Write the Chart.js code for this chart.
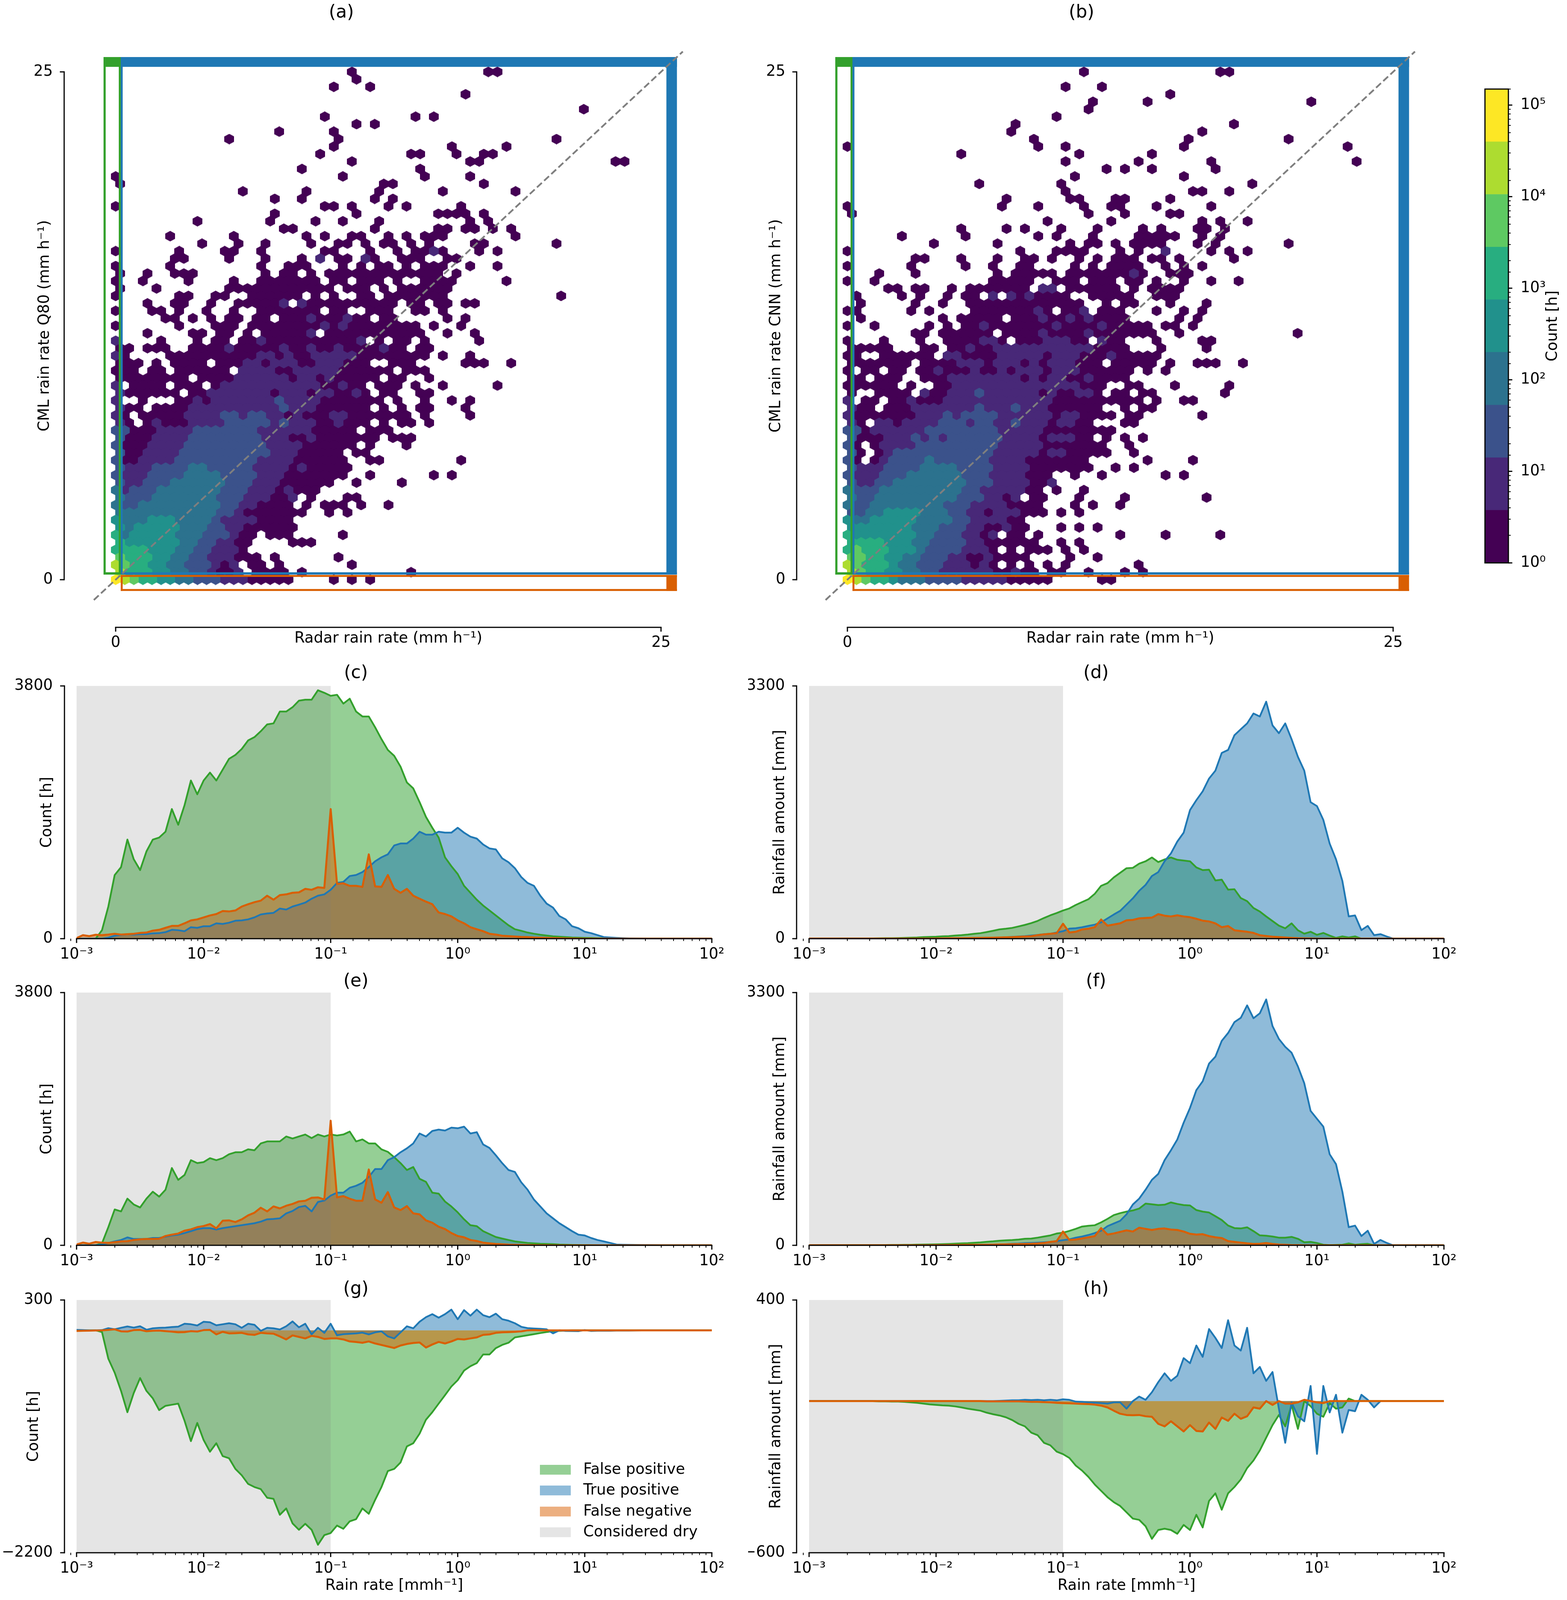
<!DOCTYPE html>
<html>
<head>
<meta charset="utf-8">
<title>Rain rate comparison</title>
<script src="https://cdn.jsdelivr.net/npm/chart.js@4/dist/chart.umd.js"></script>
<style>
html, body { margin: 0; background: #fff; }
body { position: relative; width: 4011px; overflow: hidden; }
canvas { position: absolute; display: block; }
</style>
</head>
<body>
<script>
// hexbin rows, top row first. token = column or column range, ":n" = colour level (default 0)
const hexRowsA = [
'26 41-42','26','24 28','38','','51','23 33 35','26 28','18 24','12 24 48','24 37 43','22 32-33 37 40-41','26 39-40 55-56','20 33','0 25 34 39','0 29-30 40','14 21 29 36 44','17 20 28 30','0 23-24 26 30 32 38','17 26 35-38 40','9 17 22 25 29 39 41','18-19 28 35-36 38-39 41 43','6 13 21 23 26-27 30 32 34-36 44','9 13 16 21 24-25 27 29-30 32 34 39-40 48','0 7 12-13 16 23-24 28 31 33-34 35:1 36 40 42','6-7 12 16 20 22:1 24-25 27:1 28 31-33 36-37','0 6 16 19-21 25 27 29-30 32 34-36 39 42','0 3 6-8 16 18-19 21 23-35 37','0 3 8 13 16-22 24-25 27-29 31 34-37 43','0 4 12-23 25-27 29 31-36','0 7-8 11-12 15-20 22 24 27-28 30-36 49','3 6-7 10 13-17 18:1 20:1 21-30 32-33 35-36 38-39','0 4-5 7 10 13 16-22 24-25 28-30 33-34 36','5-6 8 10 12-13 15-16 18-20 21:1 22-24 25:1 26-27 29-30 36 38','0 7 11-13 15-22 23:1 24 25:1 26-33 35 38','3 8-9 11-12 14 16-20 21:1 23-33 36 39','0:1 5 9 11-12 14-15 16:1 17-26 27:1 29 31-32 34 40','0-1 3-5 8-11 12:1 13-17 18:1 19-20 21:1 22-23 24:1 25-28 29:1 30-31 33-34','0:1 1 6-15 16-17:1 18 19:1 20-21 22-26:1 27-34 36 39','0-2 4 6-9 11-13 14-15:1 16 17-19:1 20-21 22-24:1 25-27 30-32 38-40 43','0-2 4-5 7-12 14-17:1 18-19 20:1 21-24:1 25-30 32-34','0-7 9-12 13-18:1 19 20-21:1 22 23:1 24-28 30-31 34','0:1 2-5 7 8-9 11 12-22:1 23-24 25:1 26-27 29-31 33 36 42','0:1 1-6 8-9 10-16:1 17 18-20:1 21 22-23:1 24-25 26:1 27 29-30 33-34','0:1 3 7-8 9:1 10 11-17:1 18:2 19-22:1 23-29 31 34 37 39','0:1 1-2 4-7 8-17:1 18:2 19-21:1 22-27 29 31 33-34 38','0:1 1 3-7 8-11:1 12-13:2 14:1 15-16:2 17-18:1 19 20:1 21 22-23 24-25:1 26-32 34 39','0:1 1 3 4:1 5-7 8-11:1 12-16:2 17:1 18:2 19-21:1 22-23 24:1 25-27 29 31-32 34','0-1:2 2-4 5-8:1 9-15:2 16-21:1 22-26 28-30','0:2 1-3 4-7:1 8-15:2 16-18:1 19-20 21:1 22-28 30-32','0:2 1-3 4-7:1 8-16:2 17-20:1 21-26 28 32','0:2 1-2 3-6:1 7-16:2 17-19:1 20-24 26-27','0:2 1-2 3-6:1 7-15:2 16-19:1 20-25 28-29 38','0:2 1-3:1 4-7:2 8-9:3 10-14:2 15-18:1 19 20:1 21-25','0:2 1-3:1 4-7:2 8-11:3 12-15:2 16-18:1 19-25 28 35 37','0:2 1-2:1 3-5:2 6-11:3 12-14:2 15-17:1 18-23 26 31','0:3 1:1 2-4:2 5-11:3 12-14:2 15-17:1 18 19:1 20-22','0:3 1-3:2 4-10:3 11-13:2 14-16:1 17-18 19:1 21 25-26','0:3 1-2:2 3-11:3 12-13:2 14-15:1 16-19 21 23-25 27 30','0-10:3 11-12:2 13:1 14-20 23 25','0:4 1-3:3 4-6:4 7-10:3 11:2 12-15:1 16-19','0:4 1:3 2-6:4 7-9:3 10-11:2 12-13:1 14-19','0:5 1:3 2-6:4 7-9:3 10-12:2 13:1 14-15 17-19 25','0:5 1-6:4 7-8:3 9-10:2 11-12:1 13-14 19-21','0-3:5 4-6:4 7-8:3 9-10:2 11-13:1 14','0:6 1-3:5 4-5:4 6-7:3 8-9:2 10-12:1 13-15 17 24','0:7 1:6 2-3:5 4-5:4 6-7:3 8-10:2 11:1 12 13:1 15-16 18 26','0:7 1-3:5 4-5:4 6-7:3 8-9:2 10:1 11-12 13:1 15-18 20 32','0:8 1:7 2:6 3-4:5 5-6:4 7-8:3 9-11:2 12-14:1 15-19 24 26 28'
];
const hexRowsB = [
'26 41-42','','24 28','35','27 33 51','26','23','18 42','18 39','20 37 48','0 21 24 37 55','12 25 33','24 32 40 56','28 30 33 40','25 37','14 23 44','24 38-39 42','17 24-25 29-30 35','0 17 21 26 29-30 34 40','0 26 30 35-36','22 29 39 41 44','12 17 19 23 27 32 34 38-39 41','6 13 21 23 27 32-36 39 41','9 16 24 26-27 29 31-34 38 40 48','0 19 23-26 30 32 35:1 40 42 44','7-8 12 16 19-20 22 25 27 29-31 33-34 36 42','0 7 13 16 19-20 25 27 29-32 35 37 39','3 7 16 18-22 24-30 31:1 32 35-37','0 3 16-20 23-25 27-29 31-32 34 37 40 43','4-5 7-8 11 13-19 21-22:1 24-29 31 33-36','1 6 8 11 13-14 16:1 18:1 19 20:1 21-24 27-31 34-36','1 7 10 13-25 28 30-31 35 39','0-1 7 9 14-20 21:1 22 24-25 26:1 28-30 34 37 39','1 10 12-16 18-20 21:1 22-23 24:1 25 26:1 27-30 36 38','0 3 9 11 13-14 15:1 16-22 23:1 24-27 28:1 29-33 35-36 38','7-8 10-15 17-20 21:1 22-25 26:1 27-33 36 49','0 4 8 11-14 15-16:1 17 19-21 22-24:1 25-26 28:1 29-30 34 39-40','0-4 8-9 11-12 13:1 14-15 16-26:1 27-30 34 39','0-1 4-9 11-12:1 13-16 17-21:1 22 23-25:1 26-28 29:1 30-34','0-3 4-6 8-11 12-14:1 15 16-18:1 19 20:1 21 22-24:1 25-27 29-33 35 38-40 43','0 2-3 5-6 8-9 10:1 11-13 14:1 15-16 17:1 18 19-21:1 22 23-25:1 26-31 33 35','0-1 3-5 8-10 11-18:1 19 20:1 21 22-23:1 24-25 26:1 27-30','0-5 7 10-11 12-25:1 26-28 31-32 36 42','0 3-6 8:1 9-10 11-13:1 14:2 15-20:1 21 22:1 23-24 25-26:1 27 29-30 32-33 41','0:1 2-3 5-6 7:1 8-10 11-22:1 23-32 34 37-38','0:1 1-2 4-6 7-13:1 14:2 15-17:1 18:2 19-21:1 22-27 30 32-33','0:1 1-7 8-10:1 11:2 12:1 13-16:2 17-22:1 23 24-25:1 26-29 31-32 39','0:1 1 3-4:1 5 6-9:1 10-12:2 13:1 14-15:2 16-17:1 18:2 19-21:1 22 23-24:1 25-26 30-31','0-1:2 2 3-8:1 9-16:2 17-21:1 22-29','0:2 1-3 4-6:1 7:2 8:1 9:2 10:1 11-16:2 17-20:1 21 22-24:1 25-26 28 30 32','0:2 1 3 4-7:1 8-16:2 17-21:1 22-27 28 31','0:2 1 3 4:1 5-15:2 16-20:1 21 22-23:1 24-28 31','0:2 1 3 4:1 5-8:2 9:3 10-15:2 16-19:1 20-26 33 38','0:2 1-3:1 4-7:2 8-11:3 12-15:2 16-19:1 20-26 29 31','0:2 1-3:1 4-6:2 7-12:3 13-15:2 16-19:1 20-22 25 28 35 37','0:2 1-2:1 3-4:2 5-12:3 13-15:2 16-19:1 20-21 22:1','0:3 1-3:2 4-12:3 13-14:2 15-19:1 20-21 23 26','0:3 1-2:2 3-11:3 12-14:2 15-16:1 17 18:1 20-21 25 30 39','0:3 1-2:2 3-10:3 11-13:2 14-17:1 18-21 25 27 30','0-1:2 2-3:3 4-7:4 8-10:3 11-12:2 13-14:1 15 16-18:1 19-21 23 25','0:4 1-2:3 3-7:4 8-11:3 12-13:2 14-17:1 18-19','0-6:4 7-9:3 10-12:2 13-14:1 15-16 17:1 18-19 23 25 27','0:5 1-7:4 8-9:3 10-12:2 13-14:1 15 16:1 18-19 21 30 35 41','0-3:5 4-6:4 7-8:3 9-12:2 13-14:1 15-20 23 25','0:5 1:6 2-4:5 5-7:4 8:3 9-12:2 13-15:1 16 18 20-22 24 26','0-1:6 2-3:5 4-5:4 6-7:3 8-10:2 11-12:1 13-14 15:1 16-19 24 27','0:7 1:6 2-4:5 5:4 6-7:3 8-10:2 11-13:1 14 15:1 16 18 20 22 24 32','0:7 1:6 2-3:5 4-5:4 6-7:3 8-9:2 10-15:1 16-17 18:1 19-20 22-23 26 30 32','0:8 1:7 2:6 3-4:5 5:4 6-8:3 9-12:2 13-17:1 18-22 28-29'
];
const hexColors = ['#440154', '#482878', '#3b528b', '#2c728e', '#21918c', '#28ae80', '#5ec962', '#addc30', '#fde725'];
const colorbarEdges = [1, 3.76, 14.1, 53, 200, 750, 2818, 10593, 39811, 149600];
const colorbarTicks = [1, 10, 100, 1000, 10000, 100000];

// log10 of the rain rate bins, shared by all lower panels
const rainBinExponents = [-3,-2.95,-2.9,-2.85,-2.8,-2.75,-2.7,-2.65,-2.6,-2.55,-2.5,-2.45,-2.4,-2.35,-2.3,-2.25,-2.2,-2.15,-2.1,-2.05,-2,-1.95,-1.9,-1.85,-1.8,-1.75,-1.7,-1.65,-1.6,-1.55,-1.5,-1.45,-1.4,-1.35,-1.3,-1.25,-1.2,-1.15,-1.1,-1.05,-1,-0.95,-0.9,-0.85,-0.8,-0.75,-0.7,-0.65,-0.6,-0.55,-0.5,-0.45,-0.4,-0.35,-0.3,-0.25,-0.2,-0.15,-0.1,-0.05,0,0.05,0.1,0.15,0.2,0.25,0.3,0.35,0.4,0.45,0.5,0.55,0.6,0.65,0.7,0.75,0.8,0.85,0.9,0.95,1,1.05,1.1,1.15,1.2,1.25,1.3,1.35,1.4,1.45,1.5,1.55,1.6,1.65,1.7,1.75,1.8,1.85,1.9,1.95,2];

const greenC = [0,0,0,0,127,483,957,1075,1490,1194,1031,1312,1490,1520,1608,1949,1712,2008,2378,2171,2378,2497,2378,2541,2704,2763,2852,2980,3030,3119,3222,3237,3415,3415,3480,3578,3593,3593,3735,3697,3652,3667,3534,3608,3415,3341,3341,3178,3000,2838,2749,2586,2349,2260,2053,1831,1668,1520,1223,1090,972,794,690,586,498,424,350,275,201,142,118,92,74,59,47,36,30,24,18,15,12,10,8,6,4,3,2];
const blueC = [0,0,0,0,0,15,44,56,68,62,68,68,80,83,98,133,127,112,172,163,187,187,231,222,240,270,275,290,320,364,379,388,453,438,483,512,542,601,646,666,735,838,853,942,957,1001,1075,1164,1223,1268,1401,1431,1431,1505,1608,1564,1564,1608,1594,1594,1668,1594,1534,1505,1416,1357,1342,1208,1149,1060,927,838,794,646,527,468,340,290,187,157,104,83,53,24,18,12,8,5,3,2];
const orangeC = [9,53,38,59,53,62,74,62,68,74,86,92,121,133,163,192,192,231,275,290,320,349,370,415,409,424,483,518,548,572,646,586,655,666,690,696,749,735,773,764,1949,823,832,794,794,779,1268,785,779,957,749,690,749,646,601,557,518,394,370,335,275,231,172,142,112,74,62,44,38,33,27,24,18,15,12,9,7,5,3,2];

const greenD = [0,0,1,1,1,2,2,3,3,3,4,5,6,6,8,10,13,15,20,23,26,31,33,41,46,54,64,72,87,103,121,130,141,160,180,203,232,270,305,335,368,395,440,478,515,586,690,725,800,860,920,925,980,1010,1060,1000,1035,1060,1030,1020,1010,930,895,900,760,770,640,645,530,490,400,355,290,230,170,135,200,110,65,90,50,75,40,10,30,15,30];
const blueD = [0,0,0,0,0,0,0,0,0,0,0,0,0,0,0,0,0,0,0,0,0,0,0,0,0,0,1,3,5,8,13,18,23,28,33,41,49,59,64,80,98,131,136,149,167,183,213,265,316,363,445,527,625,702,818,869,1011,1114,1268,1384,1679,1808,1924,2091,2194,2425,2464,2657,2734,2811,2940,2901,3094,2785,2683,2811,2605,2374,2194,1782,1731,1551,1242,1036,754,291,303,111,167,46,59,28];
const orangeD = [1,1,1,1,1,1,1,1,1,1,1,1,1,1,1,1,1,1,1,1,3,4,5,6,7,8,9,10,12,13,15,18,20,24,28,32,46,56,64,72,195,80,90,120,130,150,250,170,185,200,240,245,265,270,275,320,300,290,305,290,280,260,235,225,200,150,165,110,100,90,75,45,35,25,20,15,10,6,4,2];

const greenE = [0,0,0,0,30,273,539,510,702,614,569,702,806,732,836,1162,984,1058,1280,1236,1251,1310,1280,1310,1369,1399,1399,1443,1429,1532,1562,1562,1562,1636,1606,1636,1666,1612,1666,1636,1666,1651,1666,1710,1562,1592,1532,1532,1443,1405,1325,1236,1132,1177,999,954,791,777,658,584,495,391,302,288,213,169,125,101,80,59,47,36,30,24,21,18,12,9,6,5,3,2];
const blueE = [0,0,0,0,12,36,59,80,119,95,95,95,110,110,130,148,160,184,213,243,258,258,237,258,273,288,302,317,332,356,391,397,406,480,516,575,593,510,652,673,747,791,791,865,895,940,1029,1147,1147,1280,1325,1399,1458,1532,1681,1636,1719,1740,1725,1769,1760,1784,1681,1701,1517,1464,1354,1236,1132,1103,948,836,688,584,480,406,332,273,213,160,148,110,80,59,36,12,9,8,6,4,3,2];
const orangeE = [12,41,24,50,40,36,47,59,62,80,89,95,95,98,140,160,177,220,240,273,290,320,255,370,375,350,390,450,490,565,510,585,555,595,622,660,670,715,720,690,1873,720,740,700,670,670,1140,690,640,800,570,530,590,480,465,375,340,280,245,185,140,120,80,65,40,30,20,16,10,7,6,4,3,2,1];

const greenF = [0,0,1,1,1,1,2,2,2,3,3,3,4,5,5,6,7,9,10,12,13,15,18,22,25,28,33,38,46,52,60,65,69,75,85,88,100,115,129,154,165,188,215,245,255,262,300,345,395,420,440,455,480,545,535,525,530,560,540,525,520,460,440,428,380,330,258,225,220,235,185,130,125,115,100,100,110,85,40,45,30,8,3,5,8,25,8,15,20,2];
const blueF = [0,0,0,0,0,0,0,0,0,0,0,0,0,0,0,0,0,0,0,0,0,0,0,0,0,0,1,3,5,8,10,15,20,23,28,31,35,40,45,55,68,78,100,115,135,160,190,250,285,320,404,533,610,726,855,932,1112,1241,1382,1601,1794,2026,2142,2373,2463,2669,2772,2914,2970,3133,2965,3030,3210,2862,2695,2592,2515,2335,2116,1755,1652,1550,1189,1060,700,237,257,121,190,18,70,31];
const orangeF = [1,1,1,1,1,1,1,1,1,1,1,1,1,1,1,1,1,1,1,1,3,3,4,4,5,6,6,7,8,9,11,13,15,16,18,20,24,30,45,55,180,70,75,90,105,120,225,140,155,175,195,180,230,215,200,215,220,205,200,180,150,140,145,120,105,95,55,45,35,25,18,20,30,18,10,8,3,2];

const greenG = [0,0,0,0,-17,-281,-419,-599,-810,-620,-472,-599,-673,-789,-747,-736,-725,-895,-1096,-916,-1085,-1201,-1117,-1244,-1265,-1371,-1434,-1519,-1550,-1571,-1656,-1667,-1825,-1762,-1910,-1973,-1914,-1973,-2121,-2026,-2005,-1931,-1963,-1889,-1868,-1762,-1815,-1677,-1550,-1392,-1371,-1307,-1148,-1117,-1022,-884,-810,-725,-641,-556,-493,-398,-355,-324,-239,-239,-176,-144,-123,-70,-59,-49,-38,-27,-17,-8,-5,-3];
const blueG = [4,2,0,0,2,21,10,25,38,27,40,6,20,25,27,32,36,65,60,48,85,80,50,60,70,60,25,65,55,-5,25,20,8,40,88,30,65,-40,25,-25,65,-49,-38,-34,-30,-23,-40,-20,-10,-60,-80,-20,40,20,85,130,160,125,160,205,110,200,145,205,150,130,165,110,95,70,35,22,18,15,10,-30,0,-6,-7,-8,3,-6,-4,-3,-4,-2,-1,-2,-1];
const orangeG = [-6,-4,-3,-1,0,4,10,-10,-12,2,4,-9,-4,-2,-8,-13,-20,-18,-8,-12,2,4,-40,-15,-30,-28,-25,-40,-45,-25,-30,-33,-60,-90,-50,-65,-80,-55,-65,-85,-80,-80,-90,-110,-115,-123,-110,-130,-145,-160,-175,-150,-135,-125,-120,-170,-140,-115,-130,-110,-85,-90,-80,-70,-45,-40,-25,-20,-18,-15,-10,0,2];

const greenH = [0,0,0,0,0,0,0,0,0,0,0,-1,-1,-2,-2,-3,-5,-7,-10,-13,-15,-17,-18,-21,-25,-30,-34,-38,-46,-52,-57,-64,-75,-90,-100,-125,-135,-165,-175,-200,-210,-225,-255,-275,-300,-330,-355,-380,-400,-415,-440,-465,-470,-495,-545,-510,-505,-510,-525,-490,-510,-450,-500,-395,-365,-430,-365,-340,-310,-265,-235,-195,-145,-95,-55,-100,-15,-110,0,-20,-50,-62,-8,-30,-25,10];
const blueH = [0,0,0,0,0,0,0,0,0,0,0,0,0,0,0,0,0,0,0,0,0,0,0,0,0,0,0,0,0,0,1,2,3,3,5,4,5,3,5,3,7,5,-2,-3,-5,-6,-8,-10,-5,-5,-30,0,18,5,35,75,110,80,100,170,150,220,175,285,250,210,320,220,200,290,110,135,80,115,-30,-165,-5,-60,-80,60,-209,60,-45,25,-125,-35,-40,25,5,-25,0,null,null,null,null,null,null,null,null,null,null];
const orangeH = [0,0,0,0,0,0,0,0,0,0,0,0,0,0,0,0,0,0,0,0,0,0,0,0,0,0,0,0,-1,-1,-1,-1,-1,-1,-2,-3,-3,-4,-5,-7,-8,-9,-10,-11,-12,-14,-18,-25,-38,-50,-55,-56,-55,-60,-62,-90,-100,-80,-100,-120,-95,-118,-120,-85,-110,-65,-78,-50,-70,-60,-25,-30,0,-15,0,-10,-10,-5,5,0,-5,-8];

const legendLabels = ['False positive', 'True positive', 'False negative', 'Considered dry'];

const GREEN = '#33a02c';
const BLUE = '#1f78b4';
const ORANGE = '#d95f02';
const FILL_GREEN = 'rgba(44,160,44,0.5)';
const FILL_BLUE = 'rgba(31,119,180,0.5)';
const FILL_ORANGE = 'rgba(217,95,2,0.5)';
const DRY_GRAY = 'rgba(127,127,127,0.2)';
const FONT = 38.6;
const TITLE_FONT = 46;
const LEFT_BOX = { left: 0, width: 1968 };
const RIGHT_BOX = { left: 1915, width: 1890 };

// the browser window stops at 4096 px high, so vertical positions are squeezed to keep the whole figure in it
const PAGE_HEIGHT = 4402;
const SQUEEZE = Math.min(1, (window.innerHeight || PAGE_HEIGHT) / PAGE_HEIGHT);
const vy = (v) => Math.round(v * SQUEEZE);
document.body.style.height = vy(PAGE_HEIGHT) + 'px';

Chart.defaults.font.family = '"DejaVu Sans"';
Chart.defaults.color = '#000';
Chart.defaults.animation = false;

const SUPERS = { '-': '\u207B', 0: '\u2070', 1: '\u00B9', 2: '\u00B2', 3: '\u00B3', 4: '\u2074', 5: '\u2075' };
const powerLabel = (v) => {
    const e = Math.log10(v);
    if (Math.abs(e - Math.round(e)) > 1e-6) return '';
    return '10' + String(Math.round(e)).split('').map((c) => SUPERS[c]).join('');
};
const plainLabel = (v) => (v < 0 ? '\u2212' + (-v) : String(v));

const makeCanvas = (left, top, width, height) => {
    const canvas = document.createElement('canvas');
    canvas.width = width;
    canvas.height = height;
    canvas.style.left = left + 'px';
    canvas.style.top = top + 'px';
    canvas.style.width = width + 'px';
    canvas.style.height = height + 'px';
    document.body.appendChild(canvas);
    return canvas;
};

const line = (ctx, x0, y0, x1, y1) => {
    ctx.beginPath();
    ctx.moveTo(x0, y0);
    ctx.lineTo(x1, y1);
    ctx.stroke();
};

// tick labels must not push the plot area around
const clearPadding = (s) => {
    s.paddingLeft = 0;
    s.paddingRight = 0;
    s.paddingTop = 0;
    s.paddingBottom = 0;
};

// spines sit away from the plot, so they and their ticks are drawn from the scales
const spinesPlugin = (yGap, xGap) => ({
    id: 'spines',
    afterDraw(chart) {
        const { ctx, chartArea, scales } = chart;
        const sx = chartArea.left - yGap;
        const sy = chartArea.bottom + xGap;
        const yPix = scales.y.ticks.map((t) => scales.y.getPixelForValue(t.value));
        ctx.save();
        ctx.strokeStyle = '#000';
        ctx.lineWidth = 3;
        line(ctx, sx, Math.min(...yPix) - 1.5, sx, Math.max(...yPix) + 1.5);
        yPix.forEach((p) => line(ctx, sx - 11, p, sx, p));
        const xPix = scales.x.ticks.map((t) => scales.x.getPixelForValue(t.value));
        line(ctx, Math.min(...xPix) - 1.5, sy, Math.max(...xPix) + 1.5, sy);
        scales.x.ticks.forEach((t, i) => {
            const major = scales.x.type !== 'logarithmic' || powerLabel(t.value) !== '';
            ctx.lineWidth = major ? 3 : 2;
            line(ctx, xPix[i], sy, xPix[i], sy + (major ? 11 : 6));
        });
        if (scales.x.type === 'logarithmic') {
            const p = scales.x.getPixelForValue(9e-4);
            ctx.lineWidth = 2;
            line(ctx, p, sy, p, sy + 6);
        }
        ctx.restore();
    }
});

const boxFrame = (ctx, color, left, right, bottom, top, widths) => {
    ctx.fillStyle = color;
    ctx.fillRect(left, top, widths[0], bottom - top);
    ctx.fillRect(right - widths[1], top, widths[1], bottom - top);
    ctx.fillRect(left, bottom - widths[2], right - left, widths[2]);
    ctx.fillRect(left, top, right - left, widths[3]);
};

// rectangles marking the confusion classes, drawn just under the 1:1 line
const classBoxesPlugin = {
    id: 'classBoxes',
    beforeDatasetDraw(chart, args) {
        if (args.index !== 0) return;
        const { ctx, scales } = chart;
        const px = (v) => scales.x.getPixelForValue(v);
        const py = (v) => scales.y.getPixelForValue(v);
        const thick = 27 * SQUEEZE;
        boxFrame(ctx, GREEN, px(-0.555), px(0.233), py(0.25), py(25.73), [5.5, 5, 6, thick]);
        boxFrame(ctx, ORANGE, px(0.233), px(25.73), py(-0.555), py(0.233), [5, 27, 5, 5]);
        boxFrame(ctx, BLUE, px(0.233), px(25.73), py(0.25), py(25.73), [5, 27, 6, thick]);
    }
};

const hexImage = (color) => {
    const c = document.createElement('canvas');
    const h = Math.round(29 * SQUEEZE);
    c.width = 25;
    c.height = h;
    const g = c.getContext('2d');
    g.fillStyle = color;
    g.beginPath();
    [[12.5, 0], [25, h / 4], [25, 3 * h / 4], [12.5, h], [0, 3 * h / 4], [0, h / 4]].forEach(([x, y]) => g.lineTo(x, y));
    g.closePath();
    g.fill();
    return c;
};

const parseHexRows = (rows) => {
    const levels = hexColors.map(() => []);
    rows.forEach((row, idx) => {
        const rowNo = rows.length - 1 - idx;
        const cells = new Map();
        row.split(' ').filter(Boolean).forEach((token) => {
            const [range, level] = token.split(':');
            const [from, to] = range.split('-').map(Number);
            for (let col = from; col <= (to === undefined ? from : to); col++) {
                cells.set(col, level ? Number(level) : 0);
            }
        });
        cells.forEach((level, col) => {
            levels[level].push({ x: (col + (rowNo % 2) / 2) * 25 / 60, y: rowNo * 25 / 68 });
        });
    });
    return levels;
};

const baseScales = (cfg) => ({
    x: {
        type: cfg.logX ? 'logarithmic' : 'linear',
        min: cfg.xRange[0],
        max: cfg.xRange[1],
        grid: { display: false },
        border: { display: false },
        ticks: {
            autoSkip: false,
            maxRotation: 0,
            minRotation: 0,
            padding: cfg.xTickPad,
            font: { size: FONT },
            callback: cfg.logX ? powerLabel : plainLabel
        },
        title: {
            display: Boolean(cfg.xTitle),
            text: cfg.xTitle || '',
            font: { size: FONT },
            padding: 0
        },
        afterBuildTicks: cfg.logX ? undefined : (s) => { s.ticks = cfg.xTicks.map((value) => ({ value })); },
        afterFit: (s) => {
            s.height = vy(cfg.axisBottom) - vy(cfg.plotBottom);
            clearPadding(s);
        }
    },
    y: {
        type: 'linear',
        min: cfg.yRange[0],
        max: cfg.yRange[1],
        grid: { display: false },
        border: { display: false },
        ticks: {
            autoSkip: false,
            padding: cfg.yTickPad,
            font: { size: FONT },
            callback: plainLabel
        },
        title: {
            display: true,
            text: cfg.yTitle,
            font: { size: FONT },
            padding: { top: cfg.yTitleX - cfg.box.left - FONT * 0.6, bottom: 0 }
        },
        afterBuildTicks: (s) => { s.ticks = cfg.yTicks.map((value) => ({ value })); },
        afterFit: (s) => {
            s.width = cfg.plotLeft - cfg.box.left;
            clearPadding(s);
        }
    }
});

const buildPanel = (cfg, type, datasets, plugins) => {
    const canvasTop = vy(cfg.titleY) - TITLE_FONT / 2;
    const height = vy(cfg.axisBottom) - canvasTop;
    const canvas = makeCanvas(cfg.box.left, canvasTop, cfg.box.width, height);
    return new Chart(canvas.getContext('2d'), {
        type,
        data: { datasets },
        plugins,
        options: {
            responsive: false,
            devicePixelRatio: 1,
            animation: false,
            layout: { padding: { left: 0, right: cfg.box.left + cfg.box.width - cfg.plotRight, top: 0, bottom: 0 } },
            scales: baseScales(cfg),
            plugins: {
                legend: { display: false },
                tooltip: { enabled: false },
                filler: { drawTime: 'beforeDatasetsDraw' },
                title: {
                    display: true,
                    text: cfg.title,
                    font: { size: TITLE_FONT, weight: 'normal', lineHeight: 1 },
                    padding: { top: 0, bottom: vy(cfg.plotTop) - canvasTop - TITLE_FONT }
                }
            }
        }
    });
};

const buildHexPanel = (cfg, rows) => {
    const levels = parseHexRows(rows);
    const datasets = [{
        data: [{ x: -1, y: -1 }, { x: 26, y: 26 }],
        showLine: true,
        borderColor: '#7f7f7f',
        borderWidth: 4.5,
        borderDash: [17, 8],
        pointRadius: 0,
        clip: false,
        order: 0
    }];
    levels.forEach((data, level) => {
        datasets.push({
            data,
            pointStyle: hexImage(hexColors[level]),
            pointRadius: 12,
            order: 20 - level
        });
    });
    buildPanel(cfg, 'scatter', datasets, [classBoxesPlugin, spinesPlugin(cfg.yGap, vy(cfg.xGap))]);
};

const toPoints = (values) => rainBinExponents.map((e, i) => ({
    x: Math.pow(10, e),
    y: values[i] === undefined ? 0 : values[i]
}));

const areaSet = (values, color, fill, width, order) => ({
    data: toPoints(values),
    borderColor: color,
    backgroundColor: fill,
    borderWidth: width,
    fill: 'origin',
    pointRadius: 0,
    tension: 0,
    spanGaps: false,
    borderJoinStyle: 'round',
    order
});

const dryZonePlugin = {
    id: 'dryZone',
    beforeDatasetsDraw(chart) {
        const { ctx, chartArea, scales } = chart;
        const x0 = scales.x.getPixelForValue(1e-3);
        const x1 = scales.x.getPixelForValue(1e-1);
        ctx.save();
        ctx.fillStyle = DRY_GRAY;
        ctx.fillRect(x0, chartArea.top, x1 - x0, chartArea.bottom - chartArea.top);
        ctx.restore();
    }
};

const legendPlugin = {
    id: 'rateLegend',
    afterDraw(chart) {
        const { ctx } = chart;
        const originY = parseFloat(chart.canvas.style.top);
        const fills = [FILL_GREEN, FILL_BLUE, FILL_ORANGE, DRY_GRAY];
        const tops = [4030, 4087, 4145, 4202];
        const boxH = 27 * SQUEEZE;
        ctx.save();
        ctx.font = FONT + 'px "DejaVu Sans"';
        ctx.textBaseline = 'middle';
        legendLabels.forEach((label, i) => {
            const top = vy(tops[i]) - originY;
            ctx.fillStyle = fills[i];
            ctx.fillRect(1382, top, 79, boxH);
            ctx.fillStyle = '#000';
            ctx.fillText(label, 1493, top + boxH / 2);
        });
        ctx.restore();
    }
};

const buildRatePanel = (cfg, green, blue, orange, extra) => {
    const datasets = [
        areaSet(orange, ORANGE, FILL_ORANGE, 5, 1),
        areaSet(blue, BLUE, FILL_BLUE, 4.5, 2),
        areaSet(green, GREEN, FILL_GREEN, 4.5, 3)
    ];
    buildPanel(cfg, 'line', datasets, [dryZonePlugin, spinesPlugin(cfg.yGap, 0)].concat(extra || []));
};

const buildColorbar = () => {
    const canvas = makeCanvas(3780, vy(200), 231, vy(1400));
    const datasets = hexColors.map((color, i) => ({
        data: [[colorbarEdges[i], colorbarEdges[i + 1]]],
        backgroundColor: color,
        grouped: false,
        barPercentage: 1,
        categoryPercentage: 1
    }));
    new Chart(canvas.getContext('2d'), {
        type: 'bar',
        data: { labels: ['Count'], datasets },
        plugins: [{
            id: 'colorbarFrame',
            afterDraw(chart) {
                const { ctx, chartArea, scales } = chart;
                ctx.save();
                ctx.strokeStyle = '#000';
                ctx.lineWidth = 3;
                ctx.strokeRect(chartArea.left, chartArea.top, chartArea.right - chartArea.left, chartArea.bottom - chartArea.top);
                scales.y.ticks.forEach((t) => {
                    const major = colorbarTicks.includes(t.value);
                    const p = scales.y.getPixelForValue(t.value);
                    ctx.lineWidth = major ? 3 : 2;
                    line(ctx, chartArea.right, p, chartArea.right + (major ? 10 : 6), p);
                });
                ctx.translate(3975 - 3780, (chartArea.top + chartArea.bottom) / 2);
                ctx.rotate(-Math.PI / 2);
                ctx.fillStyle = '#000';
                ctx.font = FONT + 'px "DejaVu Sans"';
                ctx.textAlign = 'center';
                ctx.textBaseline = 'middle';
                ctx.fillText('Count [h]', 0, 0);
                ctx.restore();
            }
        }],
        options: {
            responsive: false,
            devicePixelRatio: 1,
            animation: false,
            layout: { padding: { left: 21, right: 0, top: vy(45), bottom: vy(52) } },
            plugins: { legend: { display: false }, tooltip: { enabled: false } },
            scales: {
                x: { display: false, grid: { display: false } },
                y: {
                    type: 'logarithmic',
                    position: 'right',
                    min: colorbarEdges[0],
                    max: colorbarEdges[9],
                    grid: { display: false },
                    border: { display: false },
                    ticks: { autoSkip: false, padding: 23, font: { size: FONT }, callback: powerLabel },
                    afterFit: (s) => {
                        s.width = 150;
                        clearPadding(s);
                    }
                }
            }
        }
    });
};

const hexCommon = {
    xRange: [-1, 26], yRange: [-1, 26], xTicks: [0, 25], yTicks: [0, 25],
    plotTop: 142, plotBottom: 1651, axisBottom: 1782, titleY: 36,
    xGap: 75, xTickPad: 79, yTitleX: 115,
    xTitle: 'Radar rain rate (mm h\u207B\u00B9)'
};
buildHexPanel({ ...hexCommon, box: LEFT_BOX, title: '(a)', plotLeft: 240.2, plotRight: 1747.8, yGap: 76, yTickPad: 97, yTitle: 'CML rain rate Q80 (mm h\u207B\u00B9)' }, hexRowsA);
buildHexPanel({ ...hexCommon, box: RIGHT_BOX, title: '(b)', plotLeft: 2113.2, plotRight: 3621.8, yGap: 74, yTickPad: 95, yTitleX: 1987, yTitle: 'CML rain rate CNN (mm h\u207B\u00B9)' }, hexRowsB);

const rateLeft = { box: LEFT_BOX, logX: true, xRange: [1e-3, 100], plotLeft: 196, plotRight: 1822, yGap: 31, yTickPad: 53, xTickPad: 10 };
const rateRight = { box: RIGHT_BOX, logX: true, xRange: [1e-3, 100], plotLeft: 2071, plotRight: 3696, yGap: 32, yTickPad: 54, xTickPad: 10 };

buildRatePanel({ ...rateLeft, title: '(c)', titleY: 1853, plotTop: 1887, plotBottom: 2582, axisBottom: 2650, yRange: [0, 3800], yTicks: [0, 3800], yTitle: 'Count [h]', yTitleX: 121 }, greenC, blueC, orangeC);
buildRatePanel({ ...rateRight, title: '(d)', titleY: 1853, plotTop: 1887, plotBottom: 2582, axisBottom: 2650, yRange: [0, 3300], yTicks: [0, 3300], yTitle: 'Rainfall amount [mm]', yTitleX: 1997 }, greenD, blueD, orangeD);
buildRatePanel({ ...rateLeft, title: '(e)', titleY: 2701, plotTop: 2731, plotBottom: 3426, axisBottom: 3494, yRange: [0, 3800], yTicks: [0, 3800], yTitle: 'Count [h]', yTitleX: 121 }, greenE, blueE, orangeE);
buildRatePanel({ ...rateRight, title: '(f)', titleY: 2701, plotTop: 2731, plotBottom: 3426, axisBottom: 3494, yRange: [0, 3300], yTicks: [0, 3300], yTitle: 'Rainfall amount [mm]', yTitleX: 1997 }, greenF, blueF, orangeF);
buildRatePanel({ ...rateLeft, title: '(g)', titleY: 3548, plotTop: 3577, plotBottom: 4272, axisBottom: 4388, yRange: [-2200, 300], yTicks: [-2200, 300], yTitle: 'Count [h]', yTitleX: 87, xTitle: 'Rain rate [mmh\u207B\u00B9]' }, greenG, blueG, orangeG, [legendPlugin]);
buildRatePanel({ ...rateRight, title: '(h)', titleY: 3548, plotTop: 3577, plotBottom: 4272, axisBottom: 4388, yRange: [-600, 400], yTicks: [-600, 400], yTitle: 'Rainfall amount [mm]', yTitleX: 1987, xTitle: 'Rain rate [mmh\u207B\u00B9]' }, greenH, blueH, orangeH);

buildColorbar();
</script>
</body>
</html>
